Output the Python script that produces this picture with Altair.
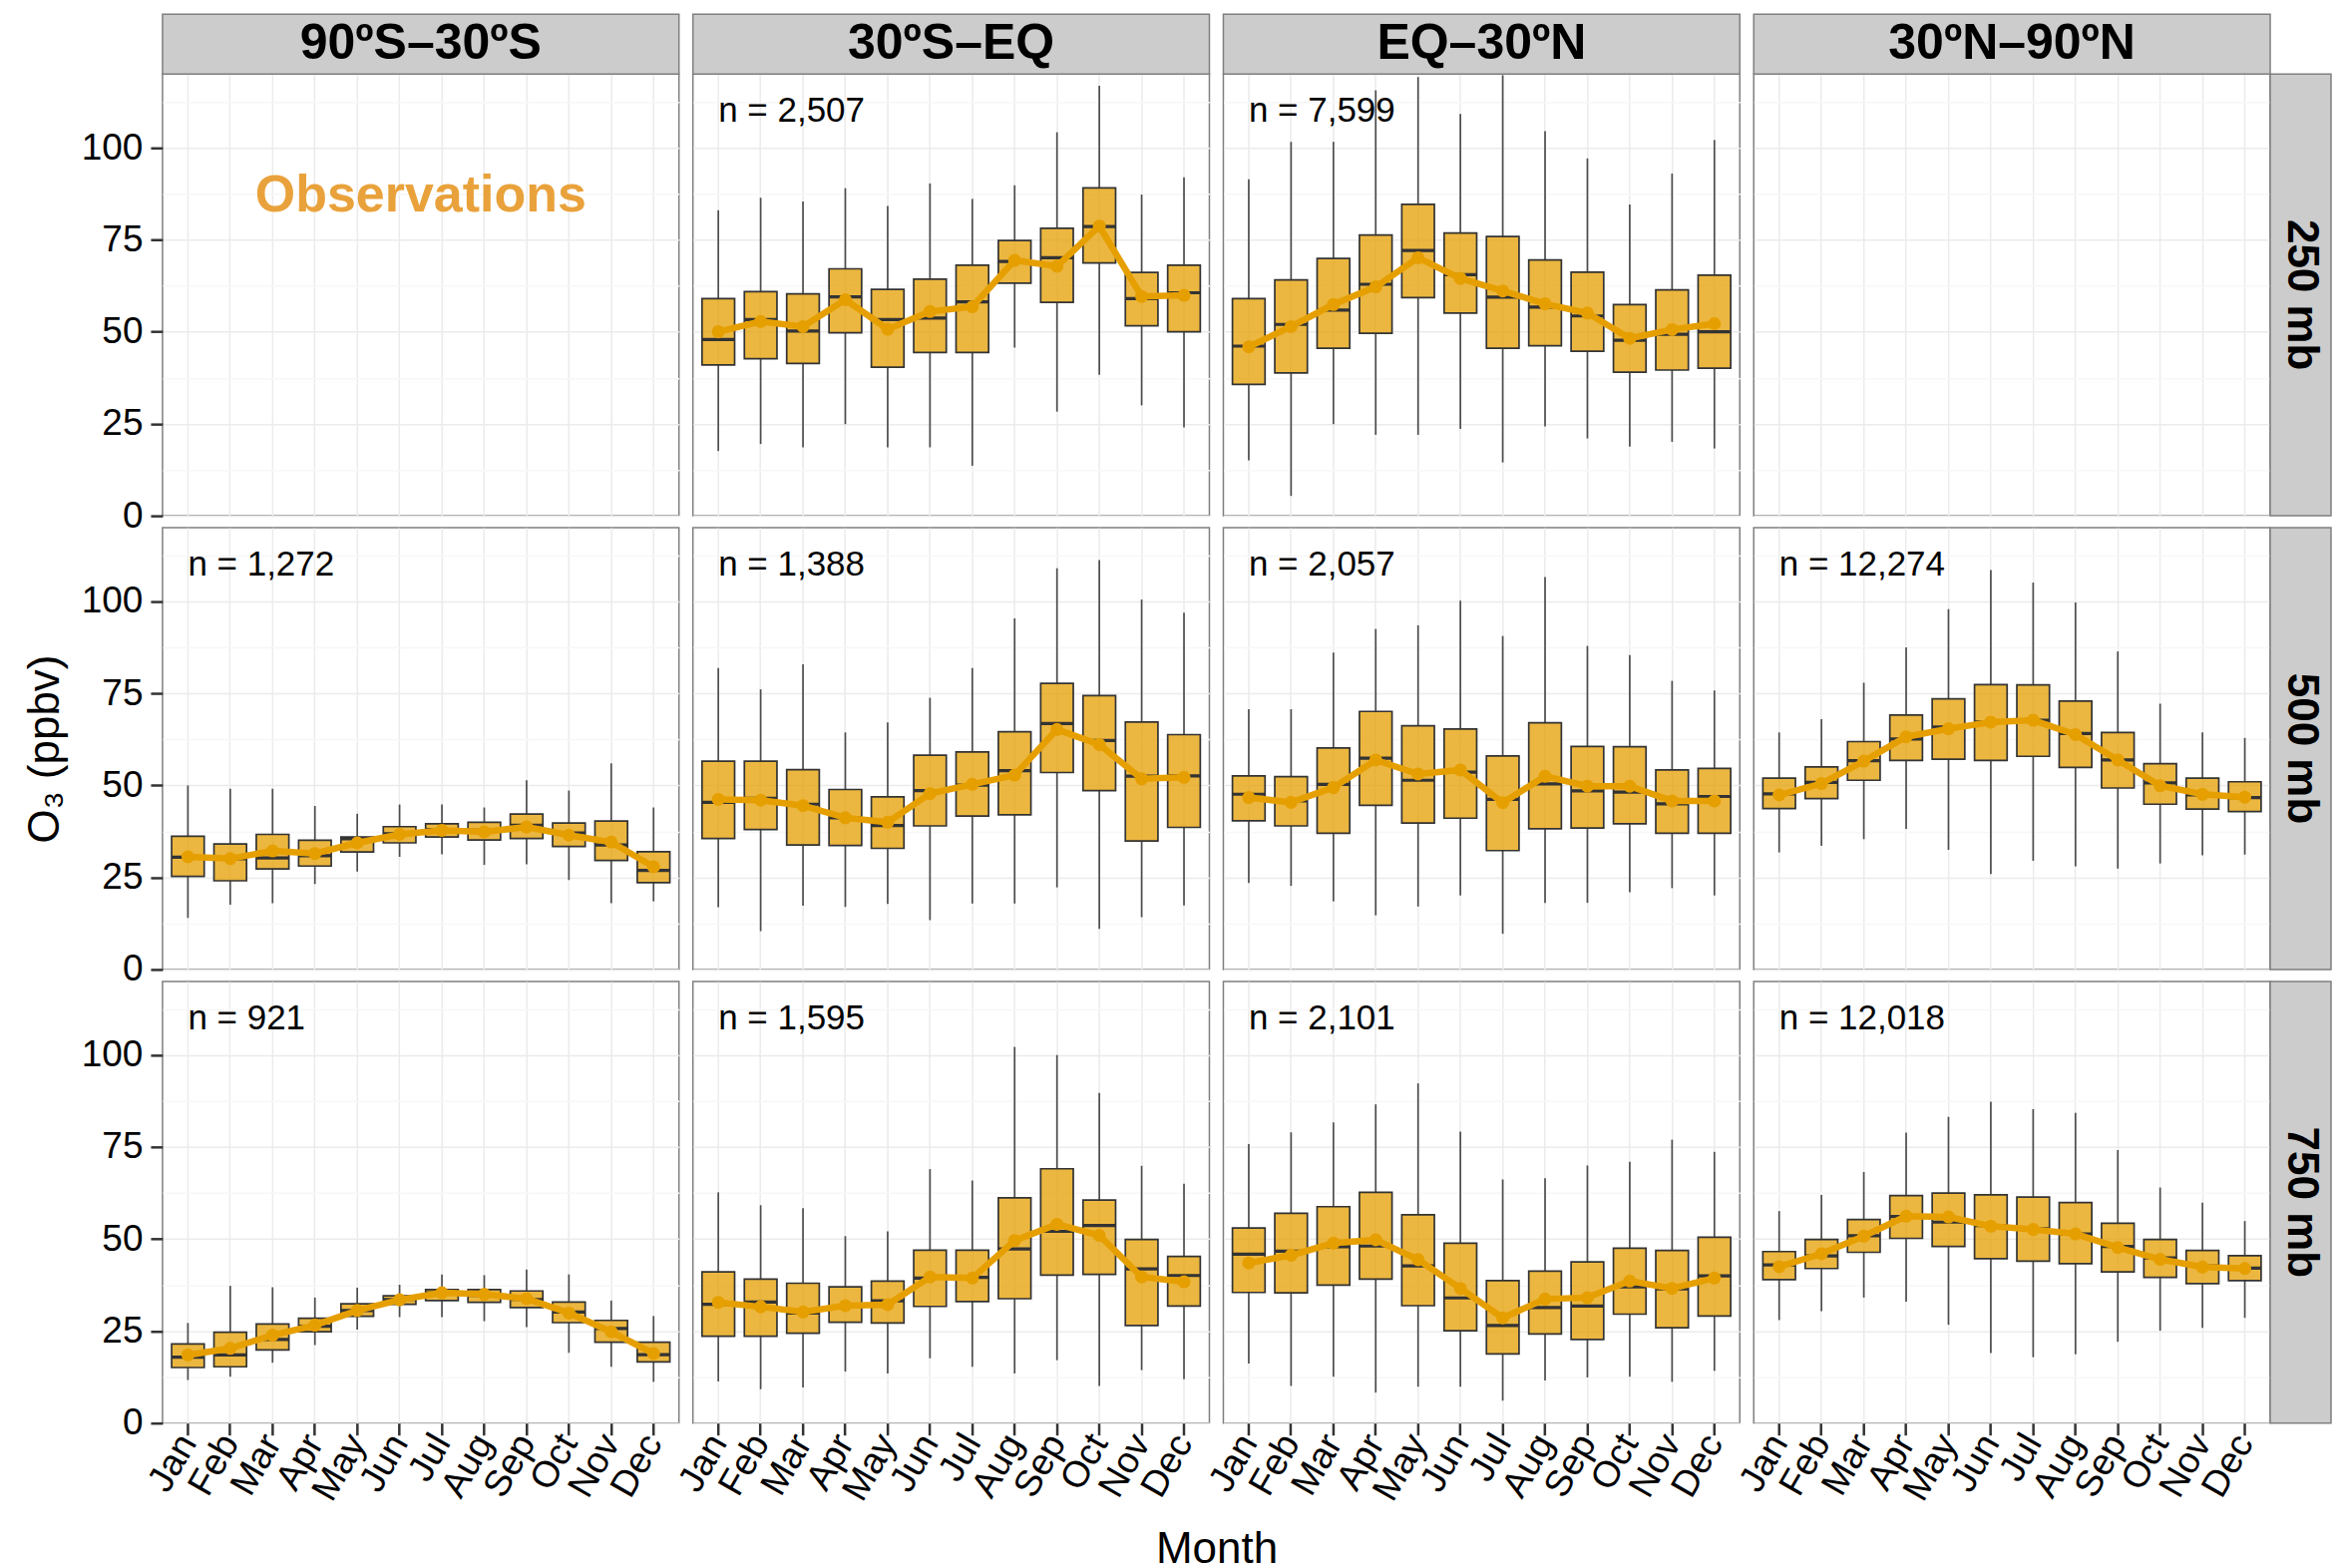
import altair as alt
import pandas as pd

FONT = "Liberation Sans"
MONTHS = ["Jan", "Feb", "Mar", "Apr", "May", "Jun", "Jul", "Aug", "Sep", "Oct", "Nov", "Dec"]
BANDS = ["90ºS–30ºS", "30ºS–EQ", "EQ–30ºN", "30ºN–90ºN"]
PRESSURES = ["250 mb", "500 mb", "750 mb"]
Y_TICKS = [0, 12.5, 25, 37.5, 50, 62.5, 75, 87.5, 100, 112.5]

# sample counts per panel (row = pressure, col = latitude band)
N_250 = ["", "2,507", "7,599", ""]
N_500 = ["1,272", "1,388", "2,057", "12,274"]
N_750 = ["921", "1,595", "2,101", "12,018"]

# ---- 250 mb, 30ºS–EQ
hi_250_b2 = [83.0, 86.4, 85.4, 89.0, 84.2, 90.3, 86.1, 89.8, 104.2, 116.8, 87.3, 92.0]
q3_250_b2 = [59.0, 60.9, 60.3, 67.1, 61.5, 64.3, 68.1, 74.8, 78.1, 89.1, 66.1, 68.1]
md_250_b2 = [47.9, 53.3, 50.2, 59.5, 53.3, 53.7, 58.1, 69.1, 70.1, 78.6, 59.0, 60.6]
q1_250_b2 = [41.0, 42.7, 41.4, 49.7, 40.4, 44.4, 44.4, 63.2, 58.0, 68.7, 51.6, 50.0]
lo_250_b2 = [17.6, 19.5, 18.6, 24.9, 18.6, 18.6, 13.6, 45.7, 28.3, 38.3, 30.0, 24.0]
mn_250_b2 = [50.0, 52.8, 51.4, 58.7, 50.7, 55.5, 56.8, 69.4, 67.8, 78.7, 59.6, 59.9]

# ---- 250 mb, EQ–30ºN
hi_250_b3 = [91.4, 101.6, 101.6, 115.6, 119.2, 109.2, 119.7, 104.5, 97.1, 84.6, 93.0, 102.1]
q3_250_b3 = [59.0, 64.1, 69.9, 76.3, 84.6, 76.8, 75.9, 69.5, 66.2, 57.4, 61.4, 65.4]
md_250_b3 = [46.1, 52.0, 55.9, 62.9, 72.1, 65.5, 59.4, 56.7, 54.3, 47.7, 49.3, 50.0]
q1_250_b3 = [35.7, 38.8, 45.5, 49.6, 59.3, 55.1, 45.5, 46.2, 44.7, 39.0, 39.6, 40.1]
lo_250_b3 = [15.1, 5.4, 24.9, 22.0, 22.0, 23.6, 14.5, 24.3, 21.0, 18.8, 20.1, 18.3]
mn_250_b3 = [45.9, 51.4, 57.4, 62.2, 70.1, 64.5, 61.1, 57.6, 55.1, 48.2, 50.6, 52.2]

# ---- 500 mb, 90ºS–30ºS
hi_500_b1 = [50.0, 49.1, 49.1, 44.4, 42.3, 44.8, 44.8, 44.0, 51.4, 48.6, 56.0, 44.0]
q3_500_b1 = [36.2, 34.1, 36.7, 35.1, 36.0, 38.8, 39.6, 40.0, 42.2, 39.8, 40.3, 32.0]
md_500_b1 = [30.5, 30.1, 30.3, 30.9, 35.5, 36.9, 38.0, 37.8, 39.2, 37.1, 33.8, 26.9]
q1_500_b1 = [25.3, 24.1, 27.3, 28.1, 31.9, 34.4, 36.0, 35.2, 35.6, 33.4, 29.6, 23.6]
lo_500_b1 = [14.0, 17.6, 18.0, 23.2, 26.6, 30.6, 31.3, 28.4, 28.6, 24.3, 18.0, 18.5]
mn_500_b1 = [30.6, 30.1, 32.2, 31.5, 34.4, 36.7, 37.8, 37.4, 38.7, 36.5, 34.6, 27.9]

# ---- 500 mb, 30ºS–EQ
hi_500_b2 = [81.9, 76.1, 82.9, 64.4, 67.1, 73.8, 81.9, 95.4, 109.0, 111.2, 100.5, 96.9]
q3_500_b2 = [56.6, 56.6, 54.3, 48.9, 46.9, 58.2, 59.1, 64.6, 77.7, 74.4, 67.2, 63.8]
md_500_b2 = [45.4, 46.5, 44.9, 41.2, 39.1, 48.6, 50.1, 54.0, 66.8, 62.2, 52.5, 52.6]
q1_500_b2 = [35.6, 38.0, 33.8, 33.7, 32.9, 39.0, 41.7, 42.0, 53.5, 48.6, 34.9, 38.6]
lo_500_b2 = [16.9, 10.4, 17.3, 17.0, 17.8, 13.4, 17.9, 17.9, 22.3, 11.0, 14.2, 17.4]
mn_500_b2 = [46.2, 46.0, 44.5, 41.2, 40.0, 47.8, 50.3, 52.8, 65.2, 61.1, 51.8, 52.2]

# ---- 500 mb, EQ–30ºN
hi_500_b3 = [70.7, 70.7, 86.1, 92.5, 93.5, 100.2, 90.6, 106.6, 87.9, 85.4, 78.4, 75.8]
q3_500_b3 = [52.6, 52.4, 60.2, 70.1, 66.2, 65.3, 58.0, 67.0, 60.6, 60.5, 54.2, 54.6]
md_500_b3 = [47.6, 45.8, 50.3, 57.4, 51.4, 53.6, 46.2, 50.4, 48.5, 48.2, 45.0, 47.0]
q1_500_b3 = [40.4, 39.0, 37.0, 44.6, 39.8, 41.1, 32.3, 38.2, 38.4, 39.6, 37.0, 37.0]
lo_500_b3 = [23.5, 22.7, 18.5, 14.7, 17.1, 20.1, 9.7, 18.1, 18.1, 21.0, 22.1, 20.1]
mn_500_b3 = [46.7, 45.4, 49.4, 56.9, 53.1, 54.2, 45.3, 52.5, 49.8, 49.8, 45.8, 45.8]

# ---- 500 mb, 30ºN–90ºN
hi_500_b4 = [64.4, 68.0, 77.9, 87.5, 97.9, 108.5, 105.1, 99.7, 86.4, 72.2, 64.4, 62.9]
q3_500_b4 = [52.0, 55.0, 61.9, 69.1, 73.5, 77.4, 77.3, 72.9, 64.4, 55.9, 52.0, 51.0]
md_500_b4 = [47.7, 50.8, 56.7, 62.6, 65.9, 67.2, 67.7, 64.1, 56.9, 50.7, 47.4, 46.7]
q1_500_b4 = [43.7, 46.4, 51.4, 56.8, 57.1, 56.8, 57.9, 54.9, 49.3, 44.9, 43.6, 42.9]
lo_500_b4 = [31.8, 33.6, 35.4, 38.2, 32.5, 25.9, 29.5, 28.0, 27.4, 28.8, 31.0, 31.2]
mn_500_b4 = [47.4, 50.5, 56.6, 63.2, 65.4, 67.2, 67.7, 63.8, 56.9, 49.9, 47.6, 46.8]

# ---- 750 mb, 90ºS–30ºS
hi_750_b1 = [27.2, 37.3, 36.9, 34.1, 36.8, 37.6, 40.4, 40.2, 41.7, 40.4, 33.3, 29.1]
q3_750_b1 = [21.5, 24.7, 26.9, 28.5, 32.4, 34.6, 36.3, 36.3, 35.9, 32.9, 27.9, 22.0]
md_750_b1 = [17.9, 18.5, 22.7, 26.3, 30.6, 33.6, 35.4, 34.7, 33.6, 30.2, 25.7, 18.6]
q1_750_b1 = [15.1, 15.3, 19.9, 24.8, 29.0, 32.3, 33.3, 32.8, 31.4, 27.3, 22.0, 16.6]
lo_750_b1 = [11.7, 12.6, 16.4, 21.2, 25.4, 28.8, 28.8, 27.7, 26.1, 19.1, 15.3, 11.2]
mn_750_b1 = [18.5, 20.3, 23.9, 26.6, 30.6, 33.5, 35.4, 35.0, 33.8, 29.9, 24.8, 18.9]

# ---- 750 mb, 30ºS–EQ
hi_750_b2 = [62.7, 59.2, 58.4, 50.8, 52.1, 69.0, 65.9, 102.2, 100.0, 89.7, 69.9, 65.0]
q3_750_b2 = [41.1, 39.1, 38.0, 37.0, 38.6, 47.0, 47.0, 61.2, 69.1, 60.6, 49.9, 45.3]
md_750_b2 = [32.3, 32.9, 29.9, 31.6, 33.2, 39.4, 39.6, 47.3, 52.1, 53.7, 41.9, 40.1]
q1_750_b2 = [23.6, 23.6, 24.4, 27.4, 27.2, 31.7, 33.0, 33.8, 40.2, 40.4, 26.5, 31.8]
lo_750_b2 = [11.3, 9.2, 9.7, 14.0, 13.5, 17.6, 15.3, 13.5, 17.1, 10.1, 14.4, 11.9]
mn_750_b2 = [32.8, 31.6, 30.2, 31.9, 32.2, 39.7, 39.4, 49.6, 54.0, 51.0, 39.7, 38.4]

# ---- 750 mb, EQ–30ºN
hi_750_b3 = [75.8, 79.0, 81.7, 86.6, 92.3, 79.2, 66.2, 66.5, 70.0, 71.0, 77.0, 73.7]
q3_750_b3 = [53.0, 57.0, 58.8, 62.7, 56.6, 48.9, 38.7, 41.3, 43.8, 47.5, 46.9, 50.5]
md_750_b3 = [45.9, 46.7, 47.9, 48.1, 42.7, 34.0, 26.5, 31.4, 31.8, 37.0, 36.5, 40.0]
q1_750_b3 = [35.5, 35.4, 37.5, 39.1, 31.9, 25.1, 18.8, 24.2, 22.7, 29.6, 25.9, 29.1]
lo_750_b3 = [16.2, 10.1, 12.6, 8.3, 9.9, 9.9, 6.1, 11.6, 12.4, 12.6, 11.2, 14.2]
mn_750_b3 = [43.5, 45.6, 48.9, 49.8, 44.4, 36.6, 28.6, 33.7, 34.1, 38.6, 36.6, 39.4]

# ---- 750 mb, 30ºN–90ºN
hi_750_b4 = [57.6, 62.0, 68.2, 78.9, 83.2, 87.3, 85.3, 84.3, 74.2, 64.0, 59.9, 54.9]
q3_750_b4 = [46.6, 49.9, 55.3, 61.8, 62.5, 62.0, 61.4, 59.9, 54.3, 49.9, 46.9, 45.5]
md_750_b4 = [43.0, 45.4, 50.9, 56.1, 54.6, 53.7, 52.8, 51.4, 48.0, 44.9, 42.7, 42.1]
q1_750_b4 = [39.0, 42.0, 46.4, 50.2, 48.0, 44.7, 44.0, 43.3, 41.1, 39.6, 37.9, 38.7]
lo_750_b4 = [28.0, 30.4, 34.1, 33.0, 26.7, 19.0, 17.9, 18.7, 22.1, 25.1, 25.9, 28.6]
mn_750_b4 = [42.5, 46.0, 50.8, 56.2, 56.0, 53.5, 52.6, 51.4, 47.7, 44.5, 42.4, 42.0]


def frame(lo, q1, md, q3, hi, mn):
    return pd.DataFrame({"month": MONTHS, "lo": lo, "q1": q1, "med": md,
                         "q3": q3, "hi": hi, "mean": mn})


EMPTY = pd.DataFrame({"month": [], "lo": [], "q1": [], "med": [], "q3": [], "hi": [], "mean": []})

PANEL_DATA = [
    [EMPTY,
     frame(lo_250_b2, q1_250_b2, md_250_b2, q3_250_b2, hi_250_b2, mn_250_b2),
     frame(lo_250_b3, q1_250_b3, md_250_b3, q3_250_b3, hi_250_b3, mn_250_b3),
     EMPTY],
    [frame(lo_500_b1, q1_500_b1, md_500_b1, q3_500_b1, hi_500_b1, mn_500_b1),
     frame(lo_500_b2, q1_500_b2, md_500_b2, q3_500_b2, hi_500_b2, mn_500_b2),
     frame(lo_500_b3, q1_500_b3, md_500_b3, q3_500_b3, hi_500_b3, mn_500_b3),
     frame(lo_500_b4, q1_500_b4, md_500_b4, q3_500_b4, hi_500_b4, mn_500_b4)],
    [frame(lo_750_b1, q1_750_b1, md_750_b1, q3_750_b1, hi_750_b1, mn_750_b1),
     frame(lo_750_b2, q1_750_b2, md_750_b2, q3_750_b2, hi_750_b2, mn_750_b2),
     frame(lo_750_b3, q1_750_b3, md_750_b3, q3_750_b3, hi_750_b3, mn_750_b3),
     frame(lo_750_b4, q1_750_b4, md_750_b4, q3_750_b4, hi_750_b4, mn_750_b4)],
]
N_LABELS = [N_250, N_500, N_750]

W, H = 518, 443          # panel size
STRIP_H, STRIP_W = 60, 61  # facet strip sizes
ORANGE = "#E69F00"
DARK = "#333333"
STRIP_FILL = "#CCCCCC"
BORDER = "#7F7F7F"

X_SCALE = alt.Scale(type="band", domain=MONTHS, paddingInner=0, paddingOuter=0.1)
Y_SCALE = alt.Scale(domain=[0, 120], nice=False, zero=False)
MAJOR = "datum.value % 25 === 0"


def x_axis(show, month_title):
    kw = dict(labels=show, ticks=show, domain=False, grid=True, gridColor="#EBEBEB",
              gridWidth=1.5, labelAngle=-60, labelAlign="right", labelBaseline="middle",
              labelPadding=2, labelFontSize=37, labelColor="black",
              tickColor=DARK, tickWidth=2.5, tickSize=12, title=None)
    if month_title:
        kw.update(title="Month", titleX=W + 7, titleY=127, titleAlign="center",
                  titleBaseline="middle", titleFontSize=44, titleFontWeight="normal",
                  titleColor="black")
    return alt.Axis(**kw)


def y_axis(show, title):
    kw = dict(values=Y_TICKS, labels=show, ticks=show, domain=False, grid=True,
              gridWidth=1.5,
              gridColor={"condition": {"test": MAJOR, "value": "#EBEBEB"}, "value": "#F7F7F7"},
              tickOpacity={"condition": {"test": MAJOR, "value": 1}, "value": 0},
              labelExpr="datum.value % 25 === 0 ? format(datum.value, 'd') : ''",
              labelFontSize=37, labelPadding=8, labelColor="black",
              tickColor=DARK, tickWidth=2.5, tickSize=12, title=None)
    if title:
        kw.update(title=title, titleFontSize=44, titleFontWeight="normal",
                  titleColor="black", titlePadding=14)
    return alt.Axis(**kw)


def strip_layers(label, where):
    """Grey facet strip drawn just outside the panel (top or right)."""
    src = alt.Chart(pd.DataFrame({"t": [label]}))
    if where == "top":
        bg = src.mark_rect(fill=STRIP_FILL, stroke=BORDER, strokeWidth=1.5).encode(
            x=alt.value(0), x2=alt.value(W), y=alt.value(-STRIP_H), y2=alt.value(0))
        tx = src.mark_text(align="center", baseline="middle", fontSize=50,
                           fontWeight="bold", color="black", font=FONT).encode(
            x=alt.value(W / 2), y=alt.value(-STRIP_H / 2), text="t:N")
    else:
        bg = src.mark_rect(fill=STRIP_FILL, stroke=BORDER, strokeWidth=1.5).encode(
            x=alt.value(W), x2=alt.value(W + STRIP_W), y=alt.value(0), y2=alt.value(H))
        tx = src.mark_text(align="center", baseline="middle", fontSize=44,
                           fontWeight="bold", color="black", font=FONT, angle=90).encode(
            x=alt.value(W + STRIP_W / 2), y=alt.value(H / 2), text="t:N")
    return [bg, tx]


def panel(ri, ci):
    df = PANEL_DATA[ri][ci]
    show_x = ri == 2
    show_y = ci == 0
    xa = x_axis(show_x, show_x and ci == 1)
    ya = y_axis(show_y, "O₃ (ppbv)" if (ri == 1 and ci == 0) else None)
    X = alt.X("month:O", sort=MONTHS, scale=X_SCALE, axis=xa)

    def Y(f):
        return alt.Y(f + ":Q", scale=Y_SCALE, axis=ya)

    base = alt.Chart(df)
    w_lo = base.mark_rule(color="#4D4D4D", strokeWidth=1.7).encode(x=X, y=Y("lo"), y2="q1:Q")
    w_hi = base.mark_rule(color="#4D4D4D", strokeWidth=1.7).encode(x=X, y=Y("q3"), y2="hi:Q")
    box = base.mark_bar(fill=ORANGE, fillOpacity=0.75, stroke=DARK, strokeWidth=1.7,
                        width=alt.RelativeBandSize(0.77)).encode(x=X, y=Y("q1"), y2="q3:Q")
    med = base.mark_tick(color=DARK, thickness=3.2, size=32.7, opacity=1).encode(x=X, y=Y("med"))
    line = base.mark_line(color=ORANGE, strokeWidth=6.5).encode(x=X, y=Y("mean"))
    pts = base.mark_point(filled=True, color=ORANGE, size=170, opacity=1).encode(x=X, y=Y("mean"))
    layers = [w_lo, w_hi, box, med, line, pts]

    n = N_LABELS[ri][ci]
    if n:
        txt = alt.Chart(pd.DataFrame({"t": ["n = " + n]})).mark_text(
            align="left", baseline="middle", fontSize=35, color="black", font=FONT
        ).encode(
            x=alt.XDatum("Jan", type="ordinal", scale=X_SCALE, axis=xa),
            y=alt.YDatum(110, type="quantitative", scale=Y_SCALE, axis=ya),
            text="t:N",
        )
        layers.append(txt)
    if ri == 0 and ci == 0:
        obs = alt.Chart(pd.DataFrame({"t": ["Observations"]})).mark_text(
            align="center", baseline="middle", fontSize=52, fontWeight="bold",
            color="#E9A23B", font=FONT
        ).encode(
            y=alt.YDatum(87, type="quantitative", scale=Y_SCALE, axis=ya),
            text="t:N",
        )
        layers.append(obs)
    if ri == 0:
        layers += strip_layers(BANDS[ci], "top")
    if ci == 3:
        layers += strip_layers(PRESSURES[ri], "right")
    return alt.layer(*layers).properties(width=W, height=H)


cells = [panel(ri, ci) for ri in range(3) for ci in range(4)]

chart = alt.concat(
    *cells, columns=4, spacing={"row": 12, "column": 14}, bounds="flush"
).properties(
    padding={"left": 14, "top": 4, "right": 0, "bottom": 0},
    background="white",
).configure(font=FONT).configure_view(stroke=BORDER, strokeWidth=1.5)

chart.save("out.html", embed_options={"renderer": "svg", "actions": False})
